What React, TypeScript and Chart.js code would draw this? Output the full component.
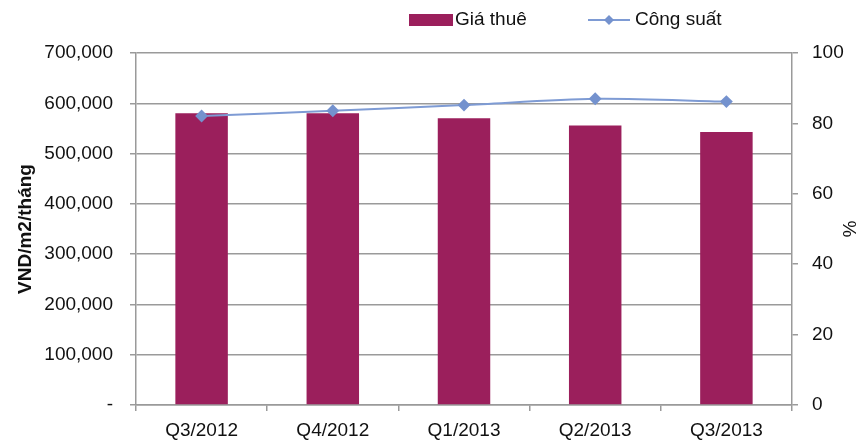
import React, { useEffect, useRef } from "react";
import { Chart, registerables } from "chart.js";

Chart.register(...registerables);

const categories = ["Q3/2012", "Q4/2012", "Q1/2013", "Q2/2013", "Q3/2013"];
const rentValues = [580000, 580000, 570000, 556000, 543000];
const occupancyValues = [82.1, 83.6, 85.2, 87.0, 86.2];
const rentLabel = "Giá thuê";
const occupancyLabel = "Công suất";
const leftTitle = "VND/m2/tháng";
const rightTitle = "%";

const BAR_COLOR = "#9B1F5C";
const LINE_COLOR = "#7E9BD4";
const GRID_COLOR = "#9a9a9a";
const FONT = "'Liberation Sans', Arial, sans-serif";

const legendPlugin = {
  id: "customLegend",
  afterDraw(chart: any) {
    const ctx = chart.ctx;
    ctx.save();
    ctx.font = `19px ${FONT}`;
    ctx.textBaseline = "middle";
    ctx.fillStyle = "#111";
    const y = 20;
    // bar item
    ctx.fillStyle = chart.data.datasets[1].backgroundColor;
    ctx.fillRect(409, 14, 44, 12);
    ctx.fillStyle = "#111";
    ctx.textAlign = "left";
    ctx.fillText(chart.data.datasets[1].label, 455, y);
    // line item
    ctx.strokeStyle = chart.data.datasets[0].borderColor;
    ctx.lineWidth = 2;
    ctx.beginPath();
    ctx.moveTo(588, y);
    ctx.lineTo(630, y);
    ctx.stroke();
    ctx.fillStyle = chart.data.datasets[0].pointBackgroundColor;
    ctx.beginPath();
    ctx.moveTo(609, y - 5);
    ctx.lineTo(614, y);
    ctx.lineTo(609, y + 5);
    ctx.lineTo(604, y);
    ctx.closePath();
    ctx.fill();
    ctx.fillStyle = "#111";
    ctx.fillText(chart.data.datasets[0].label, 635, y);
    ctx.restore();
  },
};

export default function App() {
  const ref = useRef<HTMLCanvasElement | null>(null);
  useEffect(() => {
    if (!ref.current) return;
    Chart.defaults.font.family = FONT;
    Chart.defaults.font.size = 19;
    Chart.defaults.color = "#111";
    const chart = new Chart(ref.current, {
      type: "bar",
      data: {
        labels: categories,
        datasets: [
          {
            type: "line",
            label: occupancyLabel,
            data: occupancyValues,
            yAxisID: "y1",
            borderColor: LINE_COLOR,
            backgroundColor: LINE_COLOR,
            pointBackgroundColor: "#7492CE",
            pointBorderColor: "#7492CE",
            pointStyle: "rectRot",
            pointRadius: 5,
            borderWidth: 2,
            tension: 0.3,
            order: 1,
          } as any,
          {
            type: "bar",
            label: rentLabel,
            data: rentValues,
            yAxisID: "y",
            backgroundColor: BAR_COLOR,
            borderWidth: 0,
            categoryPercentage: 1,
            barPercentage: 0.4,
            order: 2,
          } as any,
        ],
      },
      options: {
        responsive: false,
        animation: false,
        layout: { padding: { top: 53, left: 0, right: 0, bottom: 0 } },
        plugins: {
          legend: { display: false },
          tooltip: { enabled: false },
        },
        scales: {
          x: {
            offset: true,
            grid: {
              offset: true,
              drawOnChartArea: false,
              tickLength: 6,
              color: GRID_COLOR,
              lineWidth: 1.5,
            },
            border: { color: GRID_COLOR, width: 1.5 },
            ticks: { autoSkip: false, maxRotation: 0, padding: 8, color: "#111" },
            afterFit: (s: any) => {
              s.height = 36;
            },
          },
          y: {
            position: "left",
            min: 0,
            max: 700000,
            ticks: {
              stepSize: 100000,
              padding: 17,
              color: "#111",
              callback: (v: any) =>
                Number(v) === 0 ? "-" : Number(v).toLocaleString("en-US"),
            },
            grid: { color: GRID_COLOR, lineWidth: 1.5, tickLength: 6 },
            border: { color: GRID_COLOR, width: 1.5 },
            title: {
              display: true,
              text: leftTitle,
              font: { size: 19, weight: "bold" },
              color: "#111",
              padding: { top: 14, bottom: 0 },
            },
            afterFit: (s: any) => {
              s.width = 136;
            },
          },
          y1: {
            position: "right",
            min: 0,
            max: 100,
            ticks: { stepSize: 20, padding: 14, color: "#111" },
            grid: {
              drawOnChartArea: false,
              color: GRID_COLOR,
              lineWidth: 1.5,
              tickLength: 6,
            },
            border: { color: GRID_COLOR, width: 1.5 },
            title: {
              display: true,
              text: rightTitle,
              font: { size: 19 },
              color: "#111",
              padding: { top: 0, bottom: 0 },
            },
            afterFit: (s: any) => {
              s.width = 68;
            },
          },
        },
      } as any,
      plugins: [legendPlugin],
    });
    return () => chart.destroy();
  }, []);
  return (
    <div style={{ position: "fixed", left: 0, top: 0, width: 860, height: 441, background: "#fff" }}>
      <canvas ref={ref} width={860} height={441} />
    </div>
  );
}
